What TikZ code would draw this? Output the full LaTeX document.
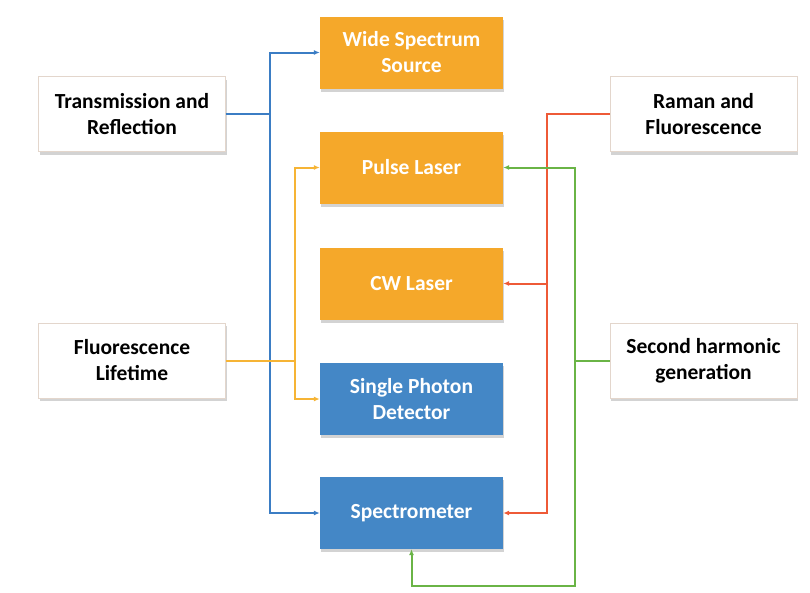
\documentclass[tikz,border=0pt]{standalone}
\usepackage{fontspec}
\setmainfont{Carlito}
\usetikzlibrary{arrows.meta,shadows}
\definecolor{boxorange}{HTML}{F5A82A}
\definecolor{boxblue}{HTML}{4487C6}
\definecolor{boxline}{HTML}{E3D6CC}
\definecolor{lineblue}{HTML}{3B7DC4}
\definecolor{lineorange}{HTML}{F6B435}
\definecolor{linered}{HTML}{EE5A37}
\definecolor{linegreen}{HTML}{6AB446}
\tikzset{
  boxshadow/.style = {drop shadow = {shadow xshift = 1pt, shadow yshift = -3pt, opacity = 0.35}},
  sidebox/.style = {boxshadow, draw = boxline, fill = white, minimum width = 187pt, minimum height = 75pt, align = center, text = black, font = \bfseries\fontsize{21.5}{26}\selectfont},
  midbox/.style = {boxshadow, minimum width = 183pt, minimum height = 72pt, align = center, text = white, font = \bfseries\fontsize{21.5}{26}\selectfont},
  link/.style = {line width = 2pt, -{Latex[length = 6pt, width = 5pt]}},
}
\begin{document}
\begin{tikzpicture}[x = 1pt, y = -1pt]
\useasboundingbox (0,0) rectangle (810,592);
% side boxes
\node[sidebox] (trans) at (132,114) {Transmission and\\Reflection};
\node[sidebox] (fluor) at (132,360.5) {Fluorescence\\Lifetime};
\node[sidebox] (raman) at (703.5,114) {Raman and\\Fluorescence};
\node[sidebox] (second) at (703.5,360.5) {Second harmonic\\generation};
% sources and detectors
\foreach \n/\y/\c/\t in {wide/52.5/boxorange/{Wide Spectrum\\Source}, pulse/167.5/boxorange/{Pulse Laser}, cw/283.5/boxorange/{CW Laser}, spd/399/boxblue/{Single Photon\\Detector}, spec/513/boxblue/{Spectrometer}}
  \node[midbox, fill = \c] (\n) at (411.5,\y) {\t};
% connections
\draw[link, draw = lineblue] (trans.east) -- ++(44,0) coordinate (bj) |- (wide.west);
\draw[link, draw = lineblue] (bj) |- (spec.west);
\draw[link, draw = lineorange] (fluor.east) -- ++(69,0) coordinate (oj) |- (pulse.west);
\draw[link, draw = lineorange] (oj) |- (spd.west);
\draw[link, draw = linered] (raman.west) -- ++(-63,0) coordinate (rj) |- (cw.east);
\draw[link, draw = linered] (rj) |- (spec.east);
\draw[link, draw = linegreen] (second.west) -- ++(-35,0) coordinate (gj) |- (pulse.east);
\draw[link, draw = linegreen] (gj) -- ++(0,225) -| (spec.south);
\end{tikzpicture}
\end{document}
